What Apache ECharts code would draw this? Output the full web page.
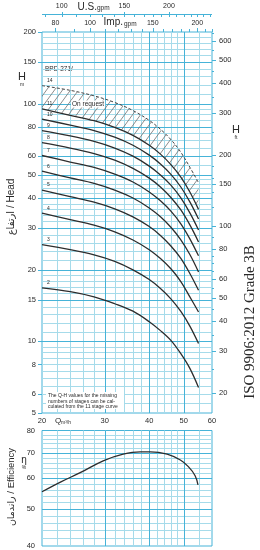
<!DOCTYPE html>
<html><head><meta charset="utf-8">
<script src="https://cdn.jsdelivr.net/npm/echarts@6.0.0/dist/echarts.min.js"></script>
<style>html,body{margin:0;padding:0;background:#fff;}#chart{width:260px;height:550px;}</style>
</head><body><div id="chart"></div>
<script>
// ---------------- data ----------------
const flow = [20, 24, 28, 32, 36, 40, 43, 46, 49, 52, 55];          // m3/h
const head2  = [16.8, 16.2, 15.4, 14.4, 13.4, 12.1, 11.1, 10.1, 8.9, 7.7, 6.4];
const head3  = [25.5, 24.3, 23.1, 21.7, 20.0, 18.2, 16.7, 15.1, 13.4, 11.6, 9.8];
const head4  = [34.6, 32.5, 30.8, 28.9, 26.7, 24.3, 22.3, 20.2, 17.9, 15.4, 13.3];
const head5  = [43.3, 40.6, 38.5, 36.1, 33.4, 30.4, 27.9, 25.2, 22.4, 19.3, 16.4];
const head6  = [52.0, 48.7, 46.2, 43.3, 40.1, 36.4, 33.4, 30.2, 26.8, 23.2, 19.6];
const head7  = [60.5, 56.8, 53.9, 50.5, 46.8, 42.5, 39.0, 35.3, 31.3, 27.0, 22.9];
const head8  = [68.5, 65.0, 61.6, 57.8, 53.4, 48.6, 44.6, 40.3, 35.8, 30.9, 26.2];
const head9  = [77.0, 73.1, 69.3, 65.0, 60.1, 54.6, 50.1, 45.4, 40.2, 34.7, 29.4];
const head10 = [86.0, 81.2, 77.0, 72.2, 66.8, 60.7, 55.7, 50.4, 44.7, 38.6, 32.7];
const head11 = [95.0, 89.3, 84.7, 79.4, 73.5, 66.8, 61.3, 55.4, 49.2, 42.5, 35.9];
const head14 = [119.0, 113.7, 107.8, 101.1, 93.5, 85.0, 78.0, 70.6, 62.6, 54.0, 46.5];
const headCurves = [head2, head3, head4, head5, head6, head7, head8, head9, head10, head11];
const stageNames = ['2', '3', '4', '5', '6', '7', '8', '9', '10', '11'];

const effFlow    = [20, 22.6, 25.6, 29.7, 33.8, 37.7, 40.3, 44.9, 48.9, 51.5, 53.8, 54.8];
const efficiency = [55.4, 58.8, 62.1, 66.7, 69.4, 70.4, 70.4, 69.4, 67.0, 64.4, 61.0, 57.7];

const headTicks  = [5, 6, 8, 10, 15, 20, 30, 40, 50, 60, 80, 100, 150, 200];      // m
const feetTicks  = [20, 30, 40, 50, 60, 80, 100, 150, 200, 300, 400, 500, 600];   // ft
const flowTicks  = [20, 30, 40, 50, 60];                                          // m3/h
const effTicks   = [40, 50, 60, 70, 80];                                          // %
const usGpmTicks = [100, 150, 200];
const impGpmTicks = [80, 100, 150, 200];

// ---------------- unit conversions ----------------
const M2FT = 3.28084, US_PER_M3H = 4.40287, IMP_PER_M3H = 3.66615;

// ---------------- styling helpers ----------------
const SANS = '"Liberation Sans", "DejaVu Sans", Arial, sans-serif';
const TXT = '#2a2a2a';
const GRID_LIGHT = '#a6dbea';
const GRID_DARK = '#46b3d8';
const CURVE = '#2d2d2d';

function range(a, b, s) { const r = []; for (let v = a; v <= b + 1e-9; v += s) r.push(+v.toFixed(3)); return r; }
const hLines = [].concat(range(5.5, 9.5, 0.5), range(11, 19, 1), range(22, 48, 2), range(55, 95, 5), range(110, 190, 10));
const hDark = [10, 15, 20, 30, 40, 50, 60, 80, 100, 150];
const vLines = [].concat(range(22, 48, 2), [55]);
const vDark = [30, 40, 50];
const effLines = range(42, 78, 2).filter(v => [50, 60, 70].indexOf(v) < 0);
const effDark = [50, 60, 70];

function txt(x, y, text, font, align, valign, fill) {
  return { type: 'text', x: x, y: y, style: { text: text, font: font, fill: fill || TXT,
    align: align, verticalAlign: valign, textAlign: align, textVerticalAlign: valign } };
}
function seg(x1, y1, x2, y2, color, w) {
  return { type: 'line', shape: { x1: x1, y1: y1, x2: x2, y2: y2 }, style: { stroke: color, lineWidth: w || 1 } };
}
const px = v => Math.round(v) + 0.5;

function hGrid(vals, gi, x0, x1, color, z) {
  return { type: 'custom', xAxisIndex: gi, yAxisIndex: gi === 0 ? 0 : 2, silent: true, clip: false, z: z,
    data: vals.map(v => [x0, v]),
    renderItem: (p, api) => { const a = api.coord([x0, api.value(1)]); const b = api.coord([x1, api.value(1)]);
      return seg(a[0], px(a[1]), b[0], px(a[1]), color, 1); } };
}
function vGrid(vals, gi, y0, y1, color, z) {
  return { type: 'custom', xAxisIndex: gi, yAxisIndex: gi === 0 ? 0 : 2, silent: true, clip: false, z: z,
    data: vals.map(v => [v, y0]),
    renderItem: (p, api) => { const a = api.coord([api.value(0), y0]); const b = api.coord([api.value(0), y1]);
      return seg(px(a[0]), a[1], px(a[0]), b[1], color, 1); } };
}

// hatch pattern for the "on request" zone
const PW = 8, PH = 11;
const pc = document.createElement('canvas'); pc.width = PW; pc.height = PH;
const pctx = pc.getContext('2d'); pctx.strokeStyle = '#707070'; pctx.lineWidth = 0.8;
pctx.beginPath();
pctx.moveTo(0, PH); pctx.lineTo(PW, 0);
pctx.moveTo(-PW, PH); pctx.lineTo(0, 0);
pctx.moveTo(PW, PH); pctx.lineTo(2 * PW, 0);
pctx.stroke();

const chart = echarts.init(document.getElementById('chart'), null, { renderer: 'canvas' });

const series = [];
// grids
series.push(hGrid(hLines, 0, 20, 60, GRID_LIGHT, 1));
series.push(vGrid(vLines, 0, 5, 200, GRID_LIGHT, 1));
series.push(hGrid(hDark, 0, 20, 60, GRID_DARK, 2));
series.push(vGrid(vDark, 0, 5, 200, GRID_DARK, 2));
series.push(hGrid(effLines, 1, 20, 60, GRID_LIGHT, 1));
series.push(vGrid(vLines, 1, 40, 80, GRID_LIGHT, 1));
series.push(hGrid(effDark, 1, 20, 60, GRID_DARK, 2));
series.push(vGrid(vDark, 1, 40, 80, GRID_DARK, 2));

// hatched on-request zone between 11 and 14 stage curves
series.push({ type: 'custom', xAxisIndex: 0, yAxisIndex: 0, silent: true, clip: false, z: 3, data: [[20, 100]],
  renderItem: (p, api) => {
    const lo = flow.map((q, i) => api.coord([q, head11[i]]));
    const hi = flow.map((q, i) => api.coord([q, head14[i]])).reverse();
    return { type: 'polygon', shape: { points: lo.concat(hi) }, style: { fill: { image: pc, repeat: 'repeat' }, stroke: null } };
  } });

// head curves
headCurves.forEach((h, k) => {
  series.push({ type: 'line', xAxisIndex: 0, yAxisIndex: 0, name: stageNames[k], data: flow.map((q, i) => [q, h[i]]),
    smooth: 0.35, symbol: 'none', silent: true, z: 5, lineStyle: { color: CURVE, width: 1.3 } });
});
series.push({ type: 'line', xAxisIndex: 0, yAxisIndex: 0, name: '14', data: flow.map((q, i) => [q, head14[i]]),
  smooth: 0.35, symbol: 'none', silent: true, z: 5, lineStyle: { color: '#444', width: 1, type: [3, 2] } });

// stage labels just above each curve start
const labelStages = stageNames.concat(['14']);
const labelHeads = headCurves.map(h => h[0]).concat([head14[0]]);
series.push({ type: 'custom', xAxisIndex: 0, yAxisIndex: 0, silent: true, clip: false, z: 6,
  data: labelHeads.map((h, i) => [20, h, i]),
  renderItem: (p, api) => { const c = api.coord([20, api.value(1)]); const i = api.value(2);
    return txt(c[0] + 5, c[1] - 5, labelStages[i], '5px ' + SANS, 'left', 'middle'); } });

// efficiency curve
series.push({ type: 'line', xAxisIndex: 1, yAxisIndex: 2, data: effFlow.map((q, i) => [q, efficiency[i]]),
  smooth: 0.4, symbol: 'none', silent: true, z: 5, lineStyle: { color: CURVE, width: 1.3 } });

// left head axis labels + ticks
series.push({ type: 'custom', xAxisIndex: 0, yAxisIndex: 0, silent: true, clip: false, z: 6,
  data: headTicks.map(v => [20, v]),
  renderItem: (p, api) => { const c = api.coord([20, api.value(1)]);
    return { type: 'group', children: [seg(c[0] - 4, px(c[1]), c[0], px(c[1]), GRID_DARK, 1),
      txt(c[0] - 6, c[1], String(api.value(1)), '7.5px ' + SANS, 'right', 'middle')] }; } });

// right feet axis labels + ticks
const feetMinor = [25, 35, 45, 55, 65, 70, 75, 90, 120, 140, 160, 180, 250, 350, 450, 550, 650];
series.push({ type: 'custom', xAxisIndex: 0, yAxisIndex: 1, silent: true, clip: false, z: 6,
  data: feetTicks.map(v => [60, v]),
  renderItem: (p, api) => { const c = api.coord([60, api.value(1)]);
    return { type: 'group', children: [seg(c[0], px(c[1]), c[0] + 4, px(c[1]), GRID_DARK, 1),
      txt(c[0] + 7, c[1], String(api.value(1)), '7.5px ' + SANS, 'left', 'middle')] }; } });
series.push({ type: 'custom', xAxisIndex: 0, yAxisIndex: 1, silent: true, clip: false, z: 6,
  data: feetMinor.map(v => [60, v]),
  renderItem: (p, api) => { const c = api.coord([60, api.value(1)]);
    return seg(c[0], px(c[1]), c[0] + 2, px(c[1]), GRID_DARK, 1); } });

// bottom flow labels (between the two plots)
series.push({ type: 'custom', xAxisIndex: 0, yAxisIndex: 0, silent: true, clip: false, z: 6,
  data: flowTicks.map(v => [v, 5]),
  renderItem: (p, api) => { const c = api.coord([api.value(0), 5]);
    return txt(c[0], c[1] + 7.5, String(api.value(0)), '7.5px ' + SANS, 'center', 'middle'); } });

// efficiency axis labels
series.push({ type: 'custom', xAxisIndex: 1, yAxisIndex: 2, silent: true, clip: false, z: 6,
  data: effTicks.map(v => [20, v]),
  renderItem: (p, api) => { const c = api.coord([20, api.value(1)]);
    return txt(c[0] - 7, c[1], String(api.value(1)), '7.5px ' + SANS, 'right', 'middle'); } });

// top U.S. gpm axis
const usAll = range(90, 260, 10);
series.push({ type: 'custom', xAxisIndex: 0, yAxisIndex: 0, silent: true, clip: false, z: 6, data: [[20, 200]],
  renderItem: (p, api) => { const a = api.coord([20, 200]); const b = api.coord([60, 200]);
    return seg(a[0], px(a[1] - 18), b[0], px(a[1] - 18), GRID_DARK, 1); } });
series.push({ type: 'custom', xAxisIndex: 0, yAxisIndex: 0, silent: true, clip: false, z: 6,
  data: usAll.map(g => [g / US_PER_M3H, 200, g]),
  renderItem: (p, api) => { const c = api.coord([api.value(0), 200]); const g = api.value(2);
    const major = usGpmTicks.indexOf(g) >= 0; const y = c[1] - 18;
    const ch = [seg(px(c[0]), major ? y - 2 : y, px(c[0]), y + 3, GRID_DARK, 1)];
    if (major) ch.push(txt(c[0], y - 8, String(g), '7px ' + SANS, 'center', 'middle'));
    return { type: 'group', children: ch }; } });
// top Imp. gpm axis
const impAll = range(80, 220, 10);
series.push({ type: 'custom', xAxisIndex: 0, yAxisIndex: 0, silent: true, clip: false, z: 6,
  data: impAll.map(g => [g / IMP_PER_M3H, 200, g]),
  renderItem: (p, api) => { const c = api.coord([api.value(0), 200]); const g = api.value(2);
    const major = impGpmTicks.indexOf(g) >= 0; const y = c[1];
    const ch = [seg(px(c[0]), y - (major ? 4 : 3), px(c[0]), y, GRID_DARK, 1)];
    if (major) ch.push(txt(c[0], y - 9, String(g), '7px ' + SANS, 'center', 'middle'));
    return { type: 'group', children: ch }; } });

const onReq = txt(71, 104, 'On request', '6.5px ' + SANS, 'left', 'middle');
onReq.style.backgroundColor = '#ffffff'; onReq.style.padding = [0, 1]; onReq.z = 10;

const option = {
  animation: false,
  backgroundColor: '#ffffff',
  grid: [
    { left: 42, top: 32, width: 170, height: 381, show: true, borderColor: GRID_DARK, borderWidth: 1, backgroundColor: 'transparent' },
    { left: 42, top: 430.5, width: 170, height: 115.5, show: true, borderColor: GRID_DARK, borderWidth: 1, backgroundColor: 'transparent' }
  ],
  xAxis: [
    { type: 'log', logBase: 10, gridIndex: 0, min: 20, max: 60, axisLine: { show: false }, axisTick: { show: false }, axisLabel: { show: false }, splitLine: { show: false } },
    { type: 'log', logBase: 10, gridIndex: 1, min: 20, max: 60, axisLine: { show: false }, axisTick: { show: false }, axisLabel: { show: false }, splitLine: { show: false } }
  ],
  yAxis: [
    { type: 'log', logBase: 10, gridIndex: 0, min: 5, max: 200, axisLine: { show: false }, axisTick: { show: false }, axisLabel: { show: false }, splitLine: { show: false } },
    { type: 'log', logBase: 10, gridIndex: 0, position: 'right', min: 5 * M2FT, max: 200 * M2FT, axisLine: { show: false }, axisTick: { show: false }, axisLabel: { show: false }, splitLine: { show: false } },
    { type: 'log', logBase: 10, gridIndex: 1, min: 40, max: 80, axisLine: { show: false }, axisTick: { show: false }, axisLabel: { show: false }, splitLine: { show: false } }
  ],
  graphic: [
    txt(97, 7, 'U.S.', '10px ' + SANS, 'right', 'middle'),
    txt(97, 8.5, 'gpm', '6.5px ' + SANS, 'left', 'middle'),
    txt(123, 22.5, 'Imp.', '10px ' + SANS, 'right', 'middle'),
    txt(124, 24, 'gpm', '6.5px ' + SANS, 'left', 'middle'),
    txt(22, 77, 'H', '11px ' + SANS, 'center', 'middle'),
    txt(22, 85, 'm', '5px ' + SANS, 'center', 'middle'),
    txt(236, 130, 'H', '11px ' + SANS, 'center', 'middle'),
    txt(236, 138, 'ft', '5px ' + SANS, 'center', 'middle'),
    txt(45, 69, 'BPD 271/', '6.5px ' + SANS, 'left', 'middle'),
    onReq,
    txt(55, 421, 'Q', '8px ' + SANS, 'left', 'middle'),
    txt(61, 423, 'm\u00b3/h', '5px ' + SANS, 'left', 'middle'),
    txt(24, 460, '\u03b7', '10px ' + SANS, 'center', 'middle'),
    txt(24, 468, '%', '5px ' + SANS, 'center', 'middle'),
    Object.assign(txt(11, 207, '\u0627\u0631\u062a\u0641\u0627\u0639 / Head', '10px ' + SANS, 'center', 'middle'), { rotation: Math.PI / 2 }),
    Object.assign(txt(11, 487, '\u0631\u0627\u0646\u062f\u0645\u0627\u0646 / Efficiency', '9.5px ' + SANS, 'center', 'middle'), { rotation: Math.PI / 2 }),
    Object.assign(txt(250, 322, 'ISO 9906:2012 Grade 3B', '15px "Liberation Serif", "DejaVu Serif", serif', 'center', 'middle'), { rotation: Math.PI / 2 }),
    { type: 'rect', shape: { x: 46, y: 392, width: 78, height: 17 }, style: { fill: '#ffffff' }, z: 10 },
    { type: 'text', x: 48, y: 393, z: 11, style: { text: 'The Q-H values for the missing\nnumbers of stages can be cal-\nculated from the 11 stage curve',
      font: '5px ' + SANS, fill: TXT, lineHeight: 5.5, align: 'left', verticalAlign: 'top', textAlign: 'left', textVerticalAlign: 'top' } }
  ],
  series: series
};
chart.setOption(option);
</script>
</body></html>
